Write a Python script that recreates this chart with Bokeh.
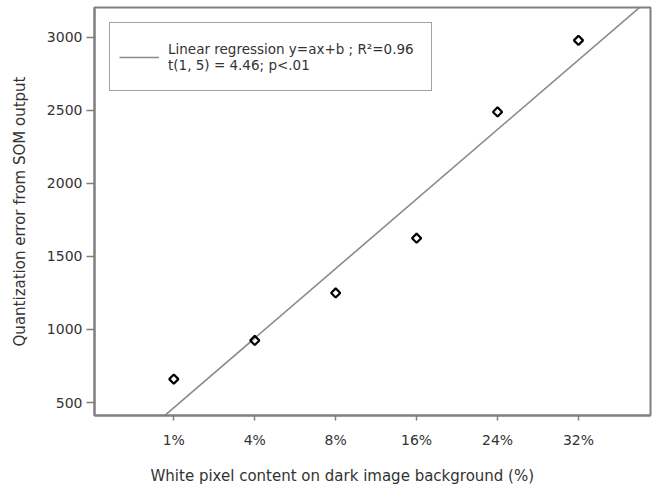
import numpy as np
from bokeh.plotting import figure
from bokeh.models import Range1d, FixedTicker, Legend, LegendItem, Title
from bokeh.embed import file_html
from bokeh.resources import INLINE

# data
categories = ["1%", "4%", "8%", "16%", "24%", "32%"]
positions = [1, 2, 3, 4, 5, 6]
quant_error = [660, 925, 1250, 1625, 2490, 2980]
y_ticks = [500, 1000, 1500, 2000, 2500, 3000]

FONT = "DejaVu Sans"
GRAY = "#7f7f7f"
TXT = "#333333"

p = figure(width=654, height=485, output_backend="svg", toolbar_location=None,
           x_range=Range1d(0.02, 6.89), y_range=Range1d(411, 3205),
           min_border_left=94, min_border_right=4, min_border_top=7,
           min_border_bottom=70)
p.background_fill_color = "white"
p.border_fill_color = "white"
p.outline_line_color = GRAY
p.outline_line_width = 2
p.grid.visible = False

# regression line computed from data
a, b = np.polyfit(np.array(positions, float), np.array(quant_error, float), 1)
xs = np.array([0.0, 7.5])
reg = p.line(xs, a * xs + b, line_color="#8a8a8a", line_width=1.6)

p.scatter(positions, quant_error, marker="square", angle=np.pi / 4, size=6.5,
          fill_color=None, line_color="black", line_width=2.2)

# axes
for ax in (p.xaxis[0], p.yaxis[0]):
    ax.axis_line_color = GRAY
    ax.axis_line_width = 2
    ax.major_tick_line_color = GRAY
    ax.major_tick_line_width = 1.5
    ax.minor_tick_line_color = None
    ax.major_tick_in = 0
    ax.major_label_text_font = FONT
    ax.major_label_text_font_size = "14px"
    ax.major_label_text_color = TXT

p.xaxis.ticker = FixedTicker(ticks=positions)
p.xaxis.major_label_overrides = {pos: lab for pos, lab in zip(positions, categories)}
p.xaxis.major_tick_out = 5
p.xaxis.major_label_standoff = 11

p.yaxis.ticker = FixedTicker(ticks=y_ticks)
p.yaxis.major_tick_out = 8
p.yaxis.major_label_standoff = 4
p.yaxis.axis_label = "Quantization error from SOM output"
p.yaxis.axis_label_text_font = FONT
p.yaxis.axis_label_text_font_size = "15px"
p.yaxis.axis_label_text_font_style = "normal"
p.yaxis.axis_label_text_color = TXT
p.yaxis.axis_label_standoff = 15

spacer = Title(text=" ", text_font_size="11px", standoff=0)
p.add_layout(spacer, "below")
xtitle = Title(text="White pixel content on dark image background (%)", align="left",
               offset=56, text_font=FONT, text_font_size="15px",
               text_font_style="normal", text_color=TXT, standoff=0)
p.add_layout(xtitle, "below")

legend = Legend(items=[LegendItem(label="Linear regression y=ax+b ; R²=0.96\nt(1, 5) = 4.46; p<.01",
                                  renderers=[reg])],
                location="top_left", margin=15, padding=9,
                border_line_color="#444444", border_line_width=1.5,
                background_fill_color="white", background_fill_alpha=1,
                label_text_font=FONT, label_text_font_size="13.5px",
                label_text_color=TXT, glyph_width=40, glyph_height=20,
                label_standoff=9, label_width=254, label_height=49)
p.add_layout(legend)

open("out.html", "w").write(file_html(p, INLINE))
